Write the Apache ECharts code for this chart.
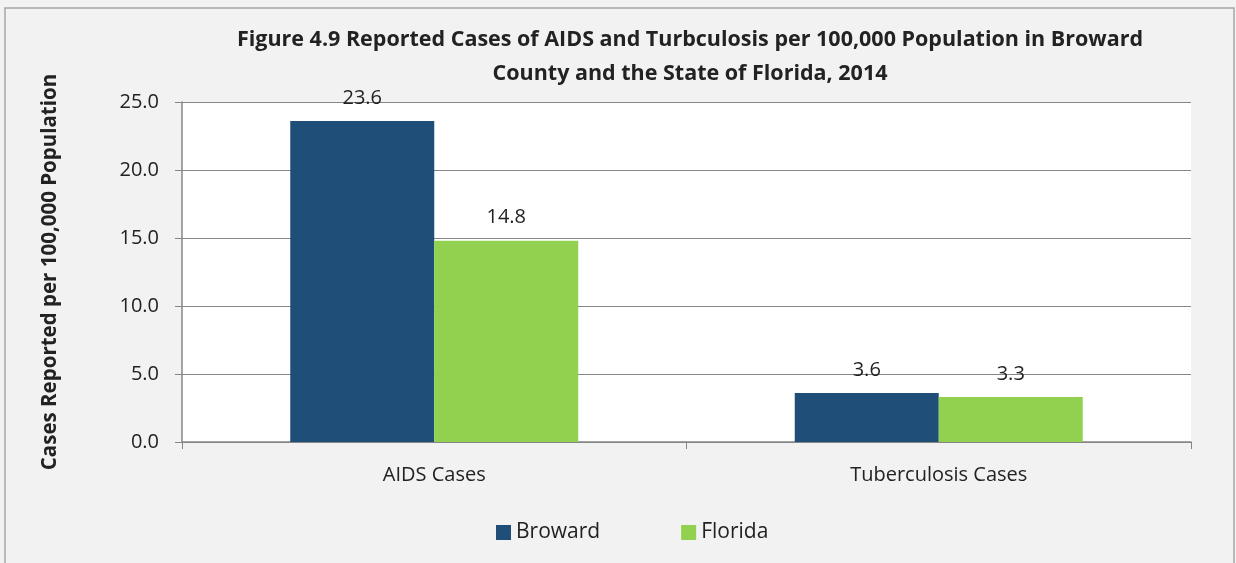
<!DOCTYPE html>
<html>
<head>
<meta charset="utf-8">
<script src="https://cdn.jsdelivr.net/npm/echarts@6/dist/echarts.min.js"></script>
<style>
  html, body { margin: 0; padding: 0; background: #fff; }
  #main { width: 1236px; height: 563px; }
</style>
</head>
<body>
<div id="main"></div>
<script>
const categories = ['AIDS Cases', 'Tuberculosis Cases']
const browardValues = [23.6, 3.6]
const floridaValues = [14.8, 3.3]
const seriesNames = ['Broward', 'Florida']

const chart = echarts.init(document.getElementById('main'))
const fontName = 'Open Sans'

// value labels sitting above each bar
const labelStyle = {
  show: true,
  position: 'top',
  distance: 13,
  fontFamily: fontName,
  fontSize: 20,
  color: '#222',
  formatter: p => p.value.toFixed(1)
}

const option = {
  backgroundColor: '#F2F2F2',
  animation: false,
  graphic: [{
    type: 'rect',
    shape: { x: 5, y: 8, width: 1229, height: 560 },
    style: { fill: 'none', stroke: '#A6A6A6', lineWidth: 1.5 },
    silent: true
  }],
  title: {
    text: 'Figure 4.9 Reported Cases of AIDS and Turbculosis per 100,000 Population in Broward\nCounty and the State of Florida, 2014',
    left: 685,
    top: 18,
    textAlign: 'center',
    textStyle: {
      fontFamily: fontName,
      fontWeight: 'bold',
      fontSize: 21.5,
      lineHeight: 34,
      color: '#222'
    }
  },
  legend: {
    data: seriesNames,
    left: 491,
    top: 517,
    itemWidth: 15,
    itemHeight: 15,
    itemGap: 81,
    icon: 'rect',
    textStyle: { fontFamily: fontName, fontSize: 21, color: '#222' }
  },
  grid: {
    left: 182,
    right: 45,
    top: 102,
    bottom: 121,
    show: true,
    backgroundColor: '#fff',
    borderWidth: 0
  },
  xAxis: {
    type: 'category',
    data: categories,
    axisLine: { lineStyle: { color: '#868686', width: 1.5 } },
    axisTick: { show: true, length: 7, lineStyle: { color: '#868686' } },
    axisLabel: { fontFamily: fontName, fontSize: 20, color: '#222', margin: 23 }
  },
  yAxis: {
    type: 'value',
    min: 0,
    max: 25,
    interval: 5,
    name: 'Cases Reported per 100,000 Population',
    nameLocation: 'middle',
    nameGap: 121,
    nameTextStyle: { fontFamily: fontName, fontWeight: 'bold', fontSize: 20.5, color: '#222' },
    axisLine: { show: true, lineStyle: { color: '#868686', width: 1.5 } },
    axisTick: { show: true, length: 7, lineStyle: { color: '#868686' } },
    axisLabel: { fontFamily: fontName, fontSize: 20, color: '#222', margin: 23, formatter: v => v.toFixed(1) },
    splitLine: { lineStyle: { color: '#868686', width: 1.2 } }
  },
  series: [
    {
      name: seriesNames[0],
      type: 'bar',
      data: browardValues,
      barWidth: 144,
      barGap: '0%',
      itemStyle: { color: '#1F4E79' },
      label: labelStyle
    },
    {
      name: seriesNames[1],
      type: 'bar',
      data: floridaValues,
      barWidth: 144,
      barGap: '0%',
      itemStyle: { color: '#92D050' },
      label: labelStyle
    }
  ]
}

chart.setOption(option)
</script>
</body>
</html>
